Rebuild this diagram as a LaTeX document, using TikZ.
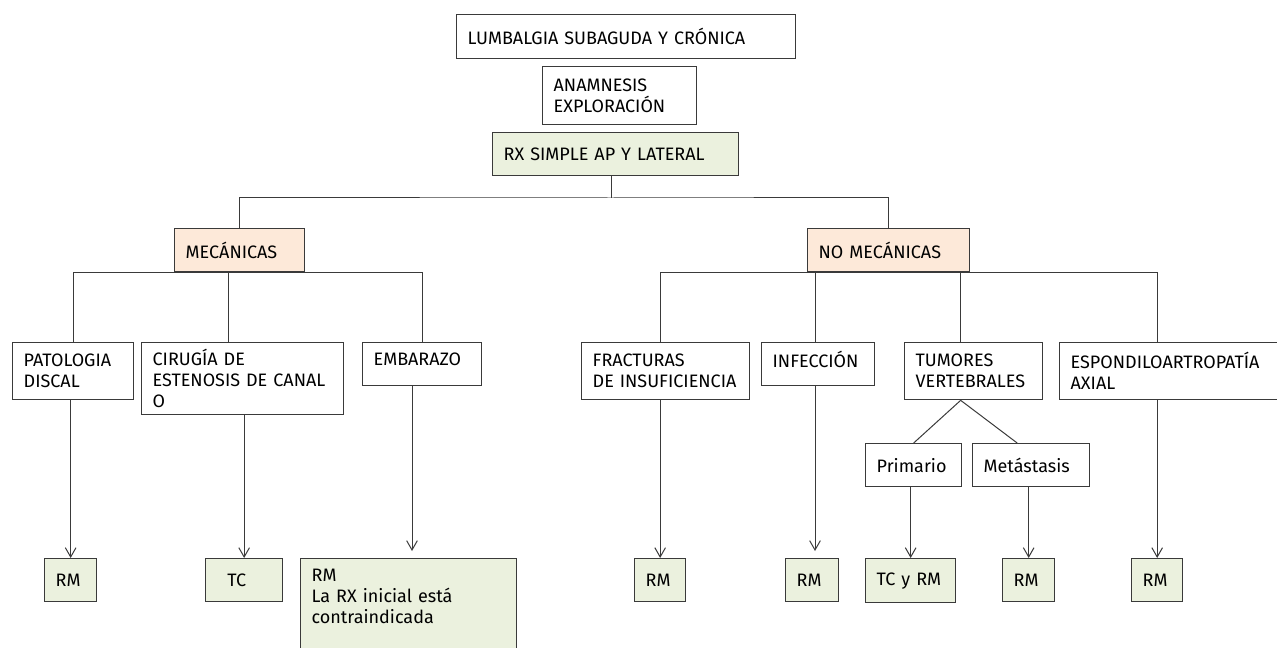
\documentclass[tikz,border=0pt]{standalone}
\usepackage{fontspec}
\setmainfont{Fira Sans}
\usepackage{xcolor}
\usepackage{tikz}
\usetikzlibrary{arrows.meta}
\definecolor{resgreen}{HTML}{EBF1DE}
\definecolor{grppeach}{HTML}{FDE9D9}
\definecolor{edgegray}{HTML}{3A3A3A}
\tikzstyle{box} = [rectangle, draw=edgegray, line width=1pt, anchor=north west, align=left,
    inner xsep=8.25pt, inner ysep=0pt, font=\fontsize{13.5}{15.75}\selectfont]
\tikzstyle{topline} = [box, text depth=7pt]
\tikzstyle{result} = [box, fill=resgreen]
\tikzstyle{group} = [box, fill=grppeach]
\tikzstyle{line} = [draw, edgegray, line width=0.75pt]
\tikzstyle{arrow} = [line, -{Straight Barb[length=7pt,width=8pt]}]

\begin{document}
\begin{tikzpicture}[x=0.75pt, y=-0.75pt]
    \useasboundingbox (0,0) rectangle (1277,648);
    \clip (0,0) rectangle (1277,648);
    % Place nodes
    \node [box, text width=237.75pt, minimum height=33pt] (lumb) at (456,14) {LUMBALGIA SUBAGUDA Y CRÓNICA};
    \node [box, text width=99pt, minimum height=43.5pt] (anam) at (542,66) {ANAMNESIS\\EXPLORACIÓN};
    \node [result, text width=168pt, minimum height=32.25pt] (rx) at (492,132) {RX SIMPLE AP Y LATERAL};
    \coordinate (split) at (611,198);
    \node [group, text width=81pt, minimum height=32.25pt] (mec) at (174,228) {MECÁNICAS};
    \node [group, text width=105pt, minimum height=32.25pt] (nomec) at (807,228) {NO MECÁNICAS};
    \node [box, text width=74.25pt, minimum height=42.75pt] (pato) at (12,342) {PATOLOGIA\\DISCAL};
    \node [box, text width=135pt, minimum height=54pt] (ciru) at (141,342) {CIRUGÍA DE\\ESTENOSIS DE CANAL\\O};
    \node [topline, text width=72.75pt, minimum height=32.25pt] (emba) at (362,342) {EMBARAZO};
    \node [box, text width=109.5pt, minimum height=42.75pt] (fract) at (581,342) {FRACTURAS\\DE INSUFICIENCIA};
    \node [topline, text width=68.25pt, minimum height=32.25pt] (infec) at (761,342) {INFECCIÓN};
    \node [box, text width=87pt, minimum height=42.75pt] (tumor) at (904,342) {TUMORES\\VERTEBRALES};
    \node [box, text width=156pt, minimum height=42.75pt] (espon) at (1059,342) {ESPONDILOARTROPATÍA\\AXIAL};
    \node [box, text width=55.5pt, minimum height=32.25pt] (prim) at (865,443) {Primario};
    \node [box, text width=71.25pt, minimum height=32.25pt] (meta) at (972,443) {Metástasis};
    \node [result, text width=22.5pt, minimum height=32.25pt] (rmpato) at (44,558) {RM};
    \node [result, text width=41.25pt, minimum height=32.25pt] (tc) at (205,558) {\hspace*{8pt}TC};
    \node [result, text width=145.5pt, inner ysep=7.5pt, text depth=90pt] (rmemba) at (300,558) {RM\\La RX inicial está\\contraindicada};
    \coordinate (embatip) at (412,551);
    \node [result, text width=21.75pt, minimum height=32.25pt] (rmfract) at (634,558) {RM};
    \node [result, text width=23.25pt, minimum height=32.25pt] (rminfec) at (785,558) {RM};
    \coordinate (infectip) at (815,551);
    \node [result, text width=51pt, minimum height=33pt] (tcrm) at (865,558) {TC y RM};
    \node [result, text width=22.5pt, minimum height=32.25pt] (rmmeta) at (1002,558) {RM};
    \node [result, text width=21.75pt, minimum height=32.25pt] (rmespon) at (1131,558) {RM};

    % Draw edges
    \path [line] (rx.south -| split) -- (split);
    \path [line] (mec) |- (split) -| (nomec);
    \path [line] (pato) |- (mec.south);
    \path [line] (emba) |- (mec.south);
    \path [line] ([xshift=-10.5pt]ciru.north) -- ([xshift=-10.5pt]ciru.north |- mec.south);
    \path [line] (fract.north -| rmfract) |- (nomec.south);
    \path [line] (espon.north -| rmespon) |- (nomec.south);
    \path [line] (infec.north -| infectip) -- (infectip |- nomec.south);
    \path [line] ([xshift=-9.75pt]tumor.north) -- ([xshift=-9.75pt]tumor.north |- nomec.south);
    \path [line] ([xshift=-9.75pt]tumor.south) -- (prim.north);
    \path [line] ([xshift=-9.75pt]tumor.south) -- ([xshift=-10.5pt]meta.north);
    \path [arrow] (pato.south -| rmpato) -- (rmpato);
    \path [arrow] (ciru.south -| tc) -- (tc);
    \path [arrow] (emba.south -| embatip) -- (embatip);
    \path [arrow] (fract.south -| rmfract) -- (rmfract);
    \path [arrow] (infec.south -| infectip) -- (infectip);
    \path [arrow] (prim.south -| tcrm) -- (tcrm);
    \path [arrow] (meta.south -| rmmeta) -- (rmmeta);
    \path [arrow] (espon.south -| rmespon) -- (rmespon);
\end{tikzpicture}
\end{document}
